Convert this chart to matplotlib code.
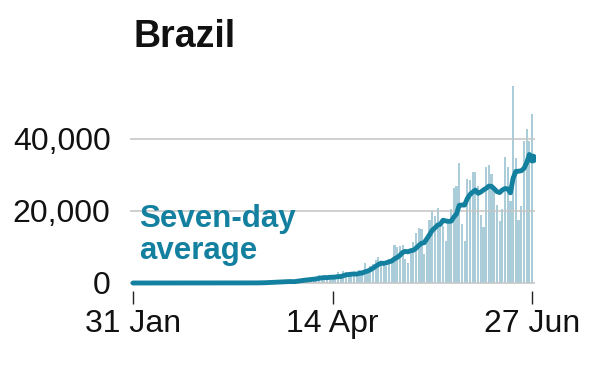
import numpy as np
import pandas as pd
import matplotlib
matplotlib.use("Agg")
import matplotlib.pyplot as plt

plt.rcParams['font.family'] = ['Liberation Sans', 'DejaVu Sans']

# ---- data -------------------------------------------------------------
start_date = "2020-01-31"
end_date = "2020-06-27"
# daily new cases, 31 Jan .. 27 Jun (one value per day)
daily_cases = (
    [0] * 27 +                                        # 31 Jan - 26 Feb
    [1, 0, 0,                                          # 27-29 Feb
     1, 0, 0, 0, 1, 5, 5, 6, 7, 5, 6, 18, 25, 21, 23, 79, 34, 57,
     137, 193, 283, 224, 418, 345, 310, 232, 482, 502, 487, 352, 323,   # Mar
     1138, 1119, 1074, 1146, 1222, 852, 926, 1661, 2210, 1930, 1781,
     1089, 1442, 1261, 1832, 3058, 2105, 3257, 2917, 2055, 1927, 2336,
     2678, 3735, 3503, 5514, 3379, 4613, 5385, 6276,                    # Apr
     7218, 6209, 4970, 4588, 6633, 6935, 10503, 9888, 10222, 10611,
     6760, 5632, 9258, 11385, 13944, 15305, 14919, 7938, 13140, 17408,
     19951, 18508, 20803, 16508, 15813, 11687, 16324, 20599, 26417,
     26928, 33274,                                                      # May
     16409, 11598, 28936, 28633, 30925, 30830, 27075, 18912, 15654,
     32091, 32913, 30412, 25982, 21704, 17110, 20647, 34918, 32188,
     22765, 54771, 34666, 17459, 21432, 39436, 42725, 39483, 46907]     # Jun
)
y_ticks = [0, 20000, 40000]
y_tick_labels = ["0", "20,000", "40,000"]
x_tick_dates = ["2020-01-31", "2020-04-14", "2020-06-27"]
x_tick_labels = ["31 Jan", "14 Apr", "27 Jun"]
title = "Brazil"
avg_label = ["Seven-day", "average"]

# ---- derived -----------------------------------------------------------
dates = pd.date_range(start_date, end_date, freq="D")
s = pd.Series(daily_cases, index=dates, dtype=float)
avg = s.rolling(7, min_periods=1).mean()

TEAL = "#13809f"
BAR = "#abcdd9"

W, H = 600, 375
fig = plt.figure(figsize=(6, 3.75), dpi=100)
left_px, right_px, top_px, bot_px = 130, 535, 80, 291
ax = fig.add_axes([left_px / W, 1 - bot_px / H,
                   (right_px - left_px) / W, (bot_px - top_px) / H])

ax.bar(dates, s.values, width=0.8, color=BAR, zorder=1, linewidth=0)
ax.plot(dates, avg.values, color=TEAL, lw=3.5, zorder=3,
        solid_capstyle='round', solid_joinstyle='round')
ax.plot(dates[-1:], avg.values[-1:], 'o', color=TEAL, ms=6, zorder=4)

for yv in y_ticks:
    ax.axhline(yv, color="#c4c4c4", lw=1.1, zorder=2)

# scale: 0 at y=283 px, 3.6 px per 1000
px_per_unit = 0.0036
ax.set_ylim(-(bot_px - 283) / px_per_unit, (283 - top_px) / px_per_unit)
d0 = dates[0]
day_px = (532 - 133) / 148.0
ax.set_xlim(d0 - pd.Timedelta(days=(133 - left_px) / day_px),
            dates[-1] + pd.Timedelta(days=(right_px - 532) / day_px))

ax.set_yticks(y_ticks)
ax.set_yticklabels(y_tick_labels)
ax.set_xticks(pd.to_datetime(x_tick_dates))
ax.set_xticklabels(x_tick_labels)
ax.tick_params(axis='y', length=0, pad=14, labelsize=23, colors='#111111')
ax.tick_params(axis='x', length=9, width=1.0, color='#222222', pad=4,
               labelsize=23, labelcolor='#111111')
for sp in ax.spines.values():
    sp.set_visible(False)
ax.set_facecolor('none')

fig.text(133 / W, 1 - 47 / H, title, fontsize=27, fontweight='bold',
         color='#111111', ha='left', va='baseline')
fig.text(139 / W, 1 - 227 / H, avg_label[0], fontsize=22.5, fontweight='bold',
         color=TEAL, ha='left', va='baseline')
fig.text(139 / W, 1 - 259 / H, avg_label[1], fontsize=22.5, fontweight='bold',
         color=TEAL, ha='left', va='baseline')

fig.savefig("out.png", dpi=100)
